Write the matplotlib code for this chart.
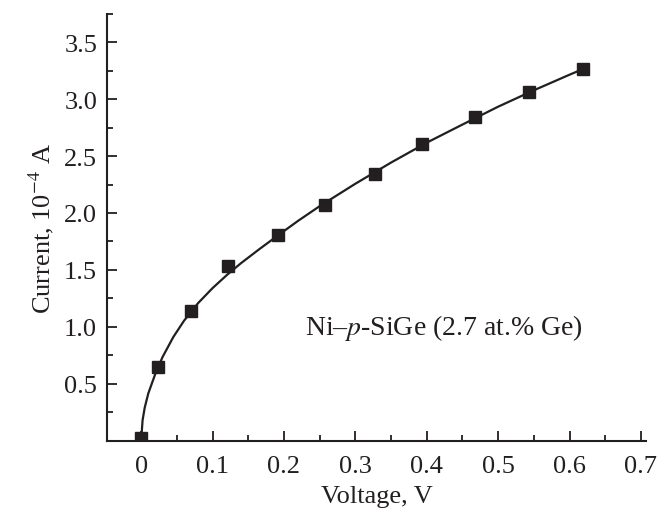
import matplotlib
matplotlib.use("Agg")
import matplotlib.pyplot as plt
from matplotlib.ticker import MultipleLocator

# измеренные точки (напряжение, В; ток, 1e-4 А)
voltage = [0.0, 0.024, 0.070, 0.122, 0.192, 0.258, 0.327, 0.394, 0.468, 0.543, 0.619]
current = [0.02, 0.647, 1.14, 1.53, 1.805, 2.07, 2.34, 2.61, 2.84, 3.06, 3.265]

# аппроксимирующая кривая
curve_v = [0.0, 0.002, 0.005, 0.01, 0.02, 0.03, 0.045, 0.06, 0.08, 0.1, 0.12,
           0.14, 0.165, 0.192, 0.22, 0.25, 0.3, 0.35, 0.4, 0.45, 0.5, 0.55,
           0.6, 0.619]
curve_i = [0.0, 0.18, 0.29, 0.415, 0.59, 0.735, 0.91, 1.053, 1.21, 1.34, 1.455,
           1.56, 1.68, 1.805, 1.932, 2.06, 2.257, 2.443, 2.618, 2.777, 2.934, 3.078,
           3.215, 3.265]

x_ticks = [0, 0.1, 0.2, 0.3, 0.4, 0.5, 0.6, 0.7]
x_labels = ["0", "0.1", "0.2", "0.3", "0.4", "0.5", "0.6", "0.7"]
y_ticks = [0.5, 1.0, 1.5, 2.0, 2.5, 3.0, 3.5]

plt.rcParams["font.family"] = ["Liberation Serif", "DejaVu Serif"]
plt.rcParams["mathtext.fontset"] = "stix"

ink = "#231f20"

fig = plt.figure(figsize=(6.68, 5.10), dpi=100)
ax = fig.add_axes([0.160, 0.134, 0.807, 0.837])

ax.plot(curve_v, curve_i, color=ink, lw=1.6, zorder=2)
ax.plot(voltage, current, "s", color=ink, ms=8, zorder=3)

ax.set_xlim(-0.048, 0.707)
ax.set_ylim(0, 3.75)

ax.set_xticks(x_ticks)
ax.set_xticklabels(x_labels)
ax.set_yticks(y_ticks)
ax.xaxis.set_minor_locator(MultipleLocator(0.05))
ax.yaxis.set_minor_locator(MultipleLocator(0.25))

for side in ["top", "right"]:
    ax.spines[side].set_visible(False)
for side in ["left", "bottom"]:
    ax.spines[side].set_linewidth(1.5)
    ax.spines[side].set_color(ink)

ax.tick_params(which="major", direction="in", length=7, width=1.3,
               labelsize=19, colors=ink)
ax.tick_params(which="minor", direction="in", length=4.5, width=1.3, colors=ink)
ax.tick_params(axis="x", which="major", pad=10)
ax.tick_params(axis="y", which="major", pad=7)

ax.set_xlabel("Voltage, V", fontsize=19, color=ink, labelpad=6)
ax.set_ylabel("Current, 10$^{\\mathrm{-4}}$ A", fontsize=19, color=ink, labelpad=6)

ax.text(0.23, 1.0, "Ni–$\\it{p}$-SiGe (2.7 at.% Ge)", fontsize=20,
        color=ink, ha="left", va="center")

fig.savefig("out.png", dpi=100)
